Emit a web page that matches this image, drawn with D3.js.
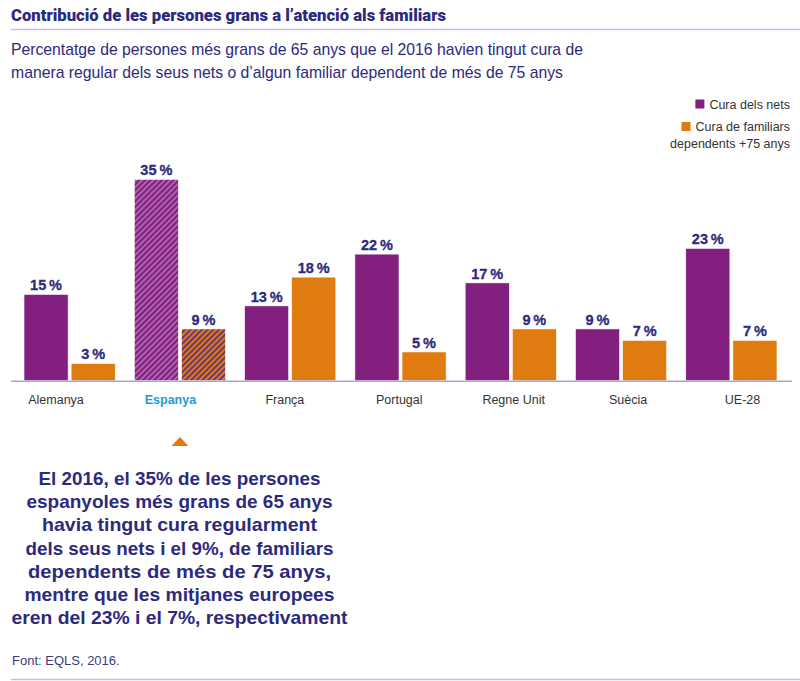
<!DOCTYPE html>
<html>
<head>
<meta charset="utf-8">
<script src="https://cdn.jsdelivr.net/npm/d3@7"></script>
<style>
  body { margin: 0; background: #fff; }
  text { font-family: "Liberation Sans", Arial, sans-serif; }
</style>
</head>
<body>
<svg id="chart"></svg>
<script>
// Size of the SVG
var width = 800;
var height = 681;

// Data
const categories = ["Alemanya", "Espanya", "França", "Portugal", "Regne Unit", "Suècia", "UE-28"];
const grandchildren = [15, 35, 13, 22, 17, 9, 23];
const dependents = [3, 9, 18, 5, 9, 7, 7];
const seriesKeys = ["nets", "dependents"];
const seriesNames = ["Cura dels nets", "Cura de familiars|dependents +75 anys"];
const highlight = "Espanya";

const title = "Contribució de les persones grans a l\u2019atenció als familiars";
const subtitle = [
    "Percentatge de persones més grans de 65 anys que el 2016 havien tingut cura de",
    "manera regular dels seus nets o d\u2019algun familiar dependent de més de 75 anys"
];
const note = [
    "El 2016, el 35% de les persones",
    "espanyoles més grans de 65 anys",
    "havia tingut cura regularment",
    "dels seus nets i el 9%, de familiars",
    "dependents de més de 75 anys,",
    "mentre que les mitjanes europees",
    "eren del 23% i el 7%, respectivament"
];
const source = "Font: EQLS, 2016.";

const purple = "#821f7f";
const orange = "#e07b10";
const ink = "#2d2a7c";
const lavender = "#aaa5d2";

var svg = d3.select("#chart").attr("width", width).attr("height", height);

// Hatch patterns for the highlighted country
var defs = svg.append("defs");
function hatch(id, base, stripe) {
    let p = defs.append("pattern")
        .attr("id", id)
        .attr("patternUnits", "userSpaceOnUse")
        .attr("width", 4).attr("height", 4)
        .attr("patternTransform", "rotate(45)");
    p.append("rect").attr("width", 4).attr("height", 4).attr("fill", base);
    p.append("rect").attr("width", 1.8).attr("height", 4).attr("fill", stripe);
}
hatch("hatch-nets", purple, "#b468b2");
hatch("hatch-dependents", orange, "#5e2f80");

// Title and rule
svg.append("text")
    .attr("x", 11).attr("y", 21)
    .attr("textLength", 435).attr("lengthAdjust", "spacingAndGlyphs")
    .style("font-family", "Roboto, sans-serif")
    .style("font-weight", "900")
    .style("font-size", "16px")
    .style("fill", ink)
    .text(title);

svg.append("line")
    .attr("x1", 11).attr("x2", 800).attr("y1", 29.5).attr("y2", 29.5)
    .attr("stroke", "#c3bfe0").attr("stroke-width", 1.5);

// Subtitle
svg.selectAll(".subtitle").data(subtitle).enter()
    .append("text")
    .attr("class", "subtitle")
    .attr("x", 11)
    .attr("y", (d, i) => 55 + i * 23)
    .attr("textLength", (d, i) => i === 0 ? 572 : 552)
    .attr("lengthAdjust", "spacingAndGlyphs")
    .style("font-size", "17px")
    .style("fill", ink)
    .text(d => d);

// Scales
let x0 = d3.scaleBand().domain(categories).range([24, 777]).paddingInner(19 / 110).paddingOuter(0);
let x1 = d3.scaleBand().domain(seriesKeys).range([0, x0.bandwidth()]).paddingInner(3 / 47);
let xLabel = d3.scalePoint().domain(categories).range([56, 742.5]);
let yScale = d3.scaleLinear().domain([0, 35]).range([380.7, 179.3]);
let colour = d3.scaleOrdinal().domain(seriesKeys).range([purple, orange]);

let rows = categories.map((c, i) => ({
    cat: c,
    values: [
        { key: "nets", value: grandchildren[i] },
        { key: "dependents", value: dependents[i] }
    ]
}));

// Bars
let groups = svg.selectAll(".group").data(rows).enter()
    .append("g")
    .attr("class", "group")
    .attr("transform", d => "translate(" + x0(d.cat) + ",0)");

groups.selectAll("rect").data(d => d.values.map(v => Object.assign({ cat: d.cat }, v))).enter()
    .append("rect")
    .attr("x", d => x1(d.key))
    .attr("width", x1.bandwidth())
    .attr("y", d => yScale(d.value))
    .attr("height", d => yScale(0) - yScale(d.value))
    .attr("fill", d => d.cat === highlight ? "url(#hatch-" + d.key + ")" : colour(d.key))
    .attr("stroke", "#fff")
    .attr("stroke-width", 0.6);

// Value labels
groups.selectAll(".value").data(d => d.values).enter()
    .append("text")
    .attr("class", "value")
    .attr("x", d => x1(d.key) + x1.bandwidth() / 2)
    .attr("y", d => yScale(d.value) - 4)
    .attr("text-anchor", "middle")
    .style("font-weight", "bold")
    .style("font-size", "14.5px")
    .style("fill", ink)
    .style("stroke", ink)
    .style("stroke-width", 0.3)
    .text(d => d.value + "\u2009%");

// Baseline
svg.append("line")
    .attr("x1", 11).attr("x2", 792).attr("y1", yScale(0) + 0.5).attr("y2", yScale(0) + 0.5)
    .attr("stroke", lavender).attr("stroke-width", 1.5);

// Category labels
svg.selectAll(".cat").data(categories).enter()
    .append("text")
    .attr("class", "cat")
    .attr("x", d => xLabel(d))
    .attr("y", 404)
    .attr("text-anchor", "middle")
    .style("font-size", "12.5px")
    .style("font-weight", d => d === highlight ? "bold" : "normal")
    .style("fill", d => d === highlight ? "#1e9ad6" : "#333")
    .text(d => d);

// Legend
let legend = svg.append("g").attr("class", "legend");
seriesNames.forEach((name, i) => {
    let lines = name.split("|");
    let y = i === 0 ? 108.5 : 131;
    lines.forEach((t, j) => {
        legend.append("text")
            .attr("x", 790).attr("y", y + j * 17)
            .attr("text-anchor", "end")
            .style("font-size", "12.5px")
            .style("fill", "#333")
            .text(t);
    });
    let tmp = legend.append("text").style("font-size", "12.5px").text(lines[0]);
    let w = tmp.node().getComputedTextLength();
    tmp.remove();
    legend.append("rect")
        .attr("x", 790 - w - 14).attr("y", y - 9)
        .attr("width", 9).attr("height", 9)
        .attr("fill", colour(seriesKeys[i]));
});

// Pointer triangle under highlighted country
let cx = x0(highlight) + x0.bandwidth() / 2;
svg.append("path")
    .attr("d", d3.line()([[cx - 8.5, 446], [cx, 437], [cx + 8.5, 446]]) + "Z")
    .attr("fill", orange);

// Annotation
const noteWidths = [282, 306, 275, 308, 303, 310, 336];
svg.selectAll(".note").data(note).enter()
    .append("text")
    .attr("class", "note")
    .attr("x", 179.5)
    .attr("y", (d, i) => 485 + i * 23.2)
    .attr("text-anchor", "middle")
    .attr("textLength", (d, i) => noteWidths[i])
    .attr("lengthAdjust", "spacingAndGlyphs")
    .style("font-weight", "bold")
    .style("font-size", "19px")
    .style("fill", ink)
    .text(d => d);

// Source and bottom rule
svg.append("text")
    .attr("x", 12).attr("y", 665)
    .style("font-size", "13px")
    .style("fill", "#3c3a7c")
    .text(source);

svg.append("line")
    .attr("x1", 11).attr("x2", 800).attr("y1", 679.5).attr("y2", 679.5)
    .attr("stroke", "#c3bfe0").attr("stroke-width", 1.5);
</script>
</body>
</html>
